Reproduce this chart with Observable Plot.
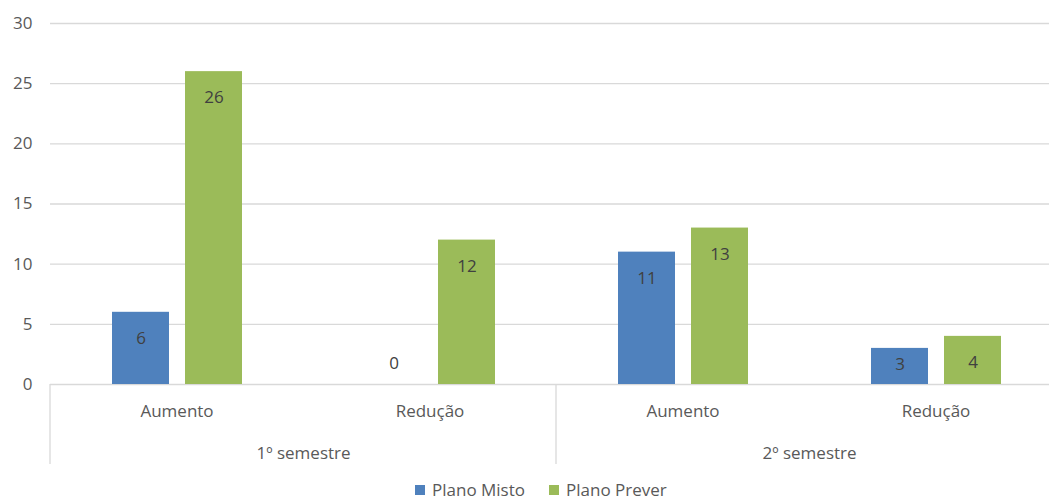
<!DOCTYPE html>
<html>
<head>
<meta charset="utf-8">
<script src="https://cdn.jsdelivr.net/npm/d3@7"></script>
<script src="https://cdn.jsdelivr.net/npm/@observablehq/plot@0.6"></script>
<style>
  html, body { margin: 0; padding: 0; background: #fff; overflow: hidden; }
  #chart svg { display: block; }
  .legend { display: flex; align-items: center; margin-left: 415px; height: 20px;
            font-family: "Open Sans", sans-serif; font-size: 17px; color: #595959; line-height: 20px; }
  .legend .item { display: flex; align-items: center; margin-right: 24px; }
  .legend .sw { width: 10px; height: 10px; margin-right: 7px; }
</style>
</head>
<body>
<div id="chart"></div>
<div class="legend" id="legend"></div>
<script>
// Variação por semestre e plano
const semestres = ["1º semestre", "2º semestre"];
const categorias = ["Aumento", "Redução"];
const series = ["Plano Misto", "Plano Prever"];
const planoMisto = [6, 0, 11, 3];   // 1º Aumento, 1º Redução, 2º Aumento, 2º Redução
const planoPrever = [26, 12, 13, 4];
const yTicks = [0, 5, 10, 15, 20, 25, 30];
const cores = ["#4F81BD", "#9BBB59"];

// one facet per semester/category pair
const chaves = [];
semestres.forEach(s => categorias.forEach(c => chaves.push(s + "|" + c)));

const rows = [];
chaves.forEach((k, i) => {
  rows.push({key: k, serie: series[0], value: planoMisto[i]});
  rows.push({key: k, serie: series[1], value: planoPrever[i]});
});
const semestreRows = semestres.map(s => ({key: s + "|" + categorias[0], name: s}));

const fontFamily = "'Open Sans', sans-serif";

const plot = Plot.plot({
  width: 1049,
  height: 480,
  marginLeft: 50,
  marginRight: -13,
  marginTop: 23,
  marginBottom: 96,
  style: {fontFamily, fontSize: "17px", color: "#595959", background: "#fff"},
  fx: {domain: chaves, padding: 0, axis: "bottom", label: null, tickSize: 0, tickPadding: 20,
       tickFormat: k => k.split("|")[1]},
  x: {domain: series, axis: null, paddingInner: 0.22, paddingOuter: 0.84},
  y: {domain: [0, 30], ticks: yTicks, tickSize: 0, tickPadding: 18, label: null, tickFormat: d => d},
  color: {domain: series, range: cores},
  marks: [
    Plot.ruleY(yTicks, {stroke: "#d9d9d9", strokeWidth: 1.3}),
    Plot.barY(rows, {fx: "key", x: "serie", y: "value", fill: "serie"}),
    // labels inside the top of bars tall enough to hold them
    Plot.text(rows.filter(d => d.value >= 4), {fx: "key", x: "serie", y: "value", text: d => String(d.value),
      dy: 26, fill: "#404040", fontSize: 17, fontFamily}),
    // short bars: label centred in the bar
    Plot.text(rows.filter(d => d.value > 0 && d.value < 4), {fx: "key", x: "serie", y: d => d.value / 2,
      text: d => String(d.value), dy: -2, fill: "#404040", fontSize: 17, fontFamily}),
    // zero values: label sits above the baseline
    Plot.text(rows.filter(d => d.value === 0), {fx: "key", x: "serie", y: "value", text: d => String(d.value),
      dy: -21, fill: "#404040", fontSize: 17, fontFamily}),
    // semester labels centred under each pair of categories
    Plot.text(semestreRows, {fx: "key", text: "name", frameAnchor: "bottom-right", textAnchor: "middle",
      lineAnchor: "middle", dy: 69, fill: "#595959", fontSize: 17, fontFamily})
  ]
});

// separators of the semester groups, placed with the plot's own scales
const fx = plot.scale("fx");
const y = plot.scale("y");
const y0 = y.apply(0);
const edges = semestres.map(s => fx.apply(s + "|" + categorias[0]));
edges.push(fx.apply(chaves[chaves.length - 1]) + fx.bandwidth);
const svg = d3.select(plot);
edges.forEach(x => {
  svg.append("line")
    .attr("x1", x).attr("x2", x)
    .attr("y1", y0).attr("y2", y0 + 80)
    .attr("stroke", "#d9d9d9").attr("stroke-width", 1.3);
});

document.getElementById("chart").appendChild(plot);

const legend = document.getElementById("legend");
series.forEach((s, i) => {
  const item = document.createElement("div");
  item.className = "item";
  const sw = document.createElement("span");
  sw.className = "sw";
  sw.style.background = cores[i];
  const label = document.createElement("span");
  label.textContent = s;
  item.appendChild(sw);
  item.appendChild(label);
  legend.appendChild(item);
});
</script>
</body>
</html>
